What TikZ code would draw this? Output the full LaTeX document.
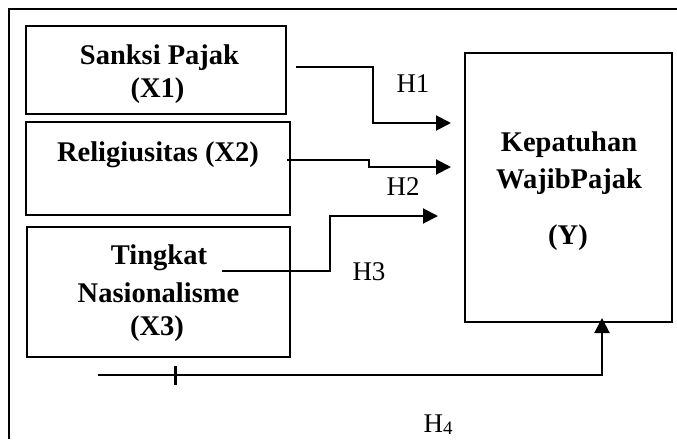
\documentclass[tikz,border=0pt]{standalone}
\usepackage{fontspec}
\setmainfont{Liberation Serif}
\usetikzlibrary{arrows.meta}
\tikzset{
  box/.style={draw, line width=1.4pt, inner sep=0pt},
  btxt/.style={font=\fontsize{28.5}{33}\selectfont\bfseries, anchor=base, inner sep=0pt},
  htxt/.style={font=\fontsize{27}{32}\selectfont, anchor=base, inner sep=0pt},
  conn/.style={line width=2pt, -{Triangle[length=15pt,width=15pt]}},
  frame/.style={line width=2.5pt}
}
\begin{document}
\begin{tikzpicture}[x=1pt,y=-1pt]
\useasboundingbox (0,0) rectangle (677,439);
% outer frame
\draw[frame] (9,439) -- (9,9) -- (677,9);
% boxes
\node[box, minimum width=260pt, minimum height=88pt] (x1) at (156,70) {};
\node[box, minimum width=264pt, minimum height=93pt] (x2) at (158,168.5) {};
\node[box, minimum width=263pt, minimum height=130pt] (x3) at (158.5,292) {};
\node[box, minimum width=207pt, minimum height=269pt] (y) at (568.5,187.5) {};
% box texts
\node[btxt] (x1a) at (159.5,64) {Sanksi Pajak};
\node[btxt] (x1b) at (157.5,97) {(X1)};
\node[btxt] (x2a) at (158,161) {Religiusitas (X2)};
\node[btxt] (x3a) at (159,264) {Tingkat};
\node[btxt] (x3b) at (158.5,302) {Nasionalisme};
\node[btxt] (x3c) at (157,335) {(X3)};
\node[btxt] (ya) at (569,151) {Kepatuhan};
\node[btxt] (yb) at (569,188) {WajibPajak};
\node[btxt] (yc) at (568,244) {(Y)};
% connectors
\coordinate (h1s) at (296,67);  \coordinate (h1e) at (451,123);
\coordinate (h2s) at (287,160); \coordinate (h2e) at (451,167);
\coordinate (h3s) at (222,271); \coordinate (h3e) at (438,216);
\coordinate (h4s) at (98,375);  \coordinate (h4e) at (602,318);
\draw[conn] (h1s) -- ++(77,0) |- (h1e);
\draw[conn] (h2s) -- ++(82,0) |- (h2e);
\draw[conn] (h3s) -- ++(108,0) |- (h3e);
\draw[conn] (h4s) -| (h4e);
\coordinate (tk) at (175,375);
\draw[line width=3pt] ([yshift=-10pt]tk) -- ([yshift=9pt]tk);
% labels
\node[htxt] (l1) at (413,92) {H1};
\node[htxt] (l2) at (403,195) {H2};
\node[htxt] (l3) at (369,280) {H3};
\node[htxt] (l4) at (438,432) {H\raisebox{-2pt}{\fontsize{19}{19}\selectfont 4}};
\end{tikzpicture}
\end{document}
